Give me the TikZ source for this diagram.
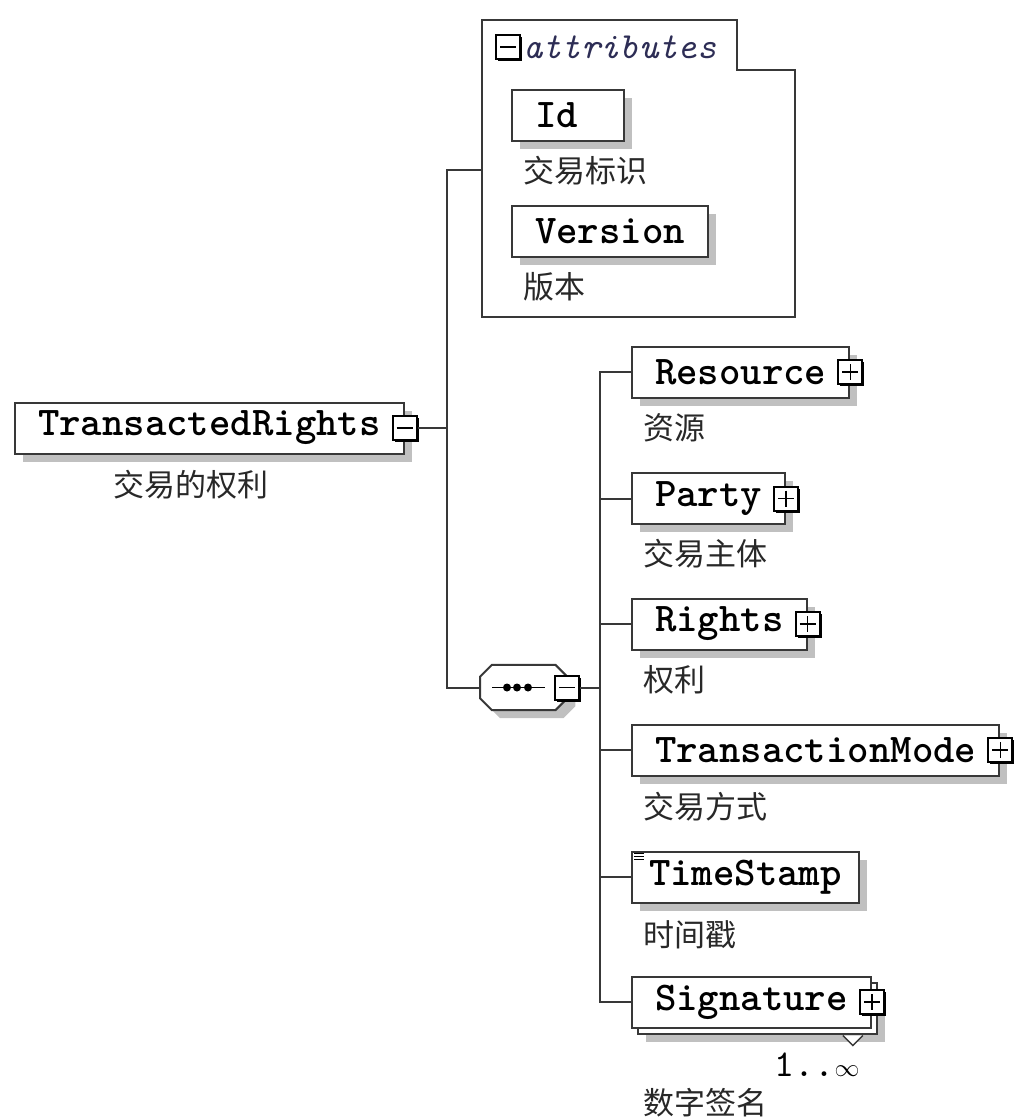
\documentclass[tikz,border=0pt]{standalone}
\usepackage{fontspec}
\usetikzlibrary{shadows, positioning, calc}
\newfontfamily\cjk{Noto Sans CJK SC}
\newfontfamily\elemfam{lmmonolt10-bold.otf}
\newfontfamily\attrfam{lmmono10-italic.otf}
\newfontfamily\monofam{lmmono10-regular.otf}
\definecolor{boxline}{RGB}{56, 56, 56}
\definecolor{shade}{RGB}{192, 192, 192}
\definecolor{attrtext}{RGB}{45, 45, 85}
\definecolor{lbltext}{RGB}{40, 40, 40}
\newcommand{\elemfont}{\elemfam\fontsize{40.8}{48}\selectfont}
\newcommand{\lblfont}{\cjk\fontsize{31}{36}\selectfont}

\tikzset{
  box/.style={draw=boxline, line width=2pt, fill=white, minimum height=51pt,
    inner xsep=23pt, inner ysep=0pt, font=\elemfont, anchor=west},
  elem/.style={box, drop shadow={shadow xshift=8pt, shadow yshift=-8pt, fill=shade, opacity=1}},
  elemmulti/.style={box,
    drop shadow={shadow xshift=14pt, shadow yshift=-14pt, fill=shade, opacity=1},
    copy shadow={shadow xshift=6pt, shadow yshift=-6pt, draw=boxline, fill=white, line width=2pt}},
  pmbox/.style={draw=black, line width=2pt, fill=white, minimum size=24pt, inner sep=0pt,
    drop shadow={shadow xshift=2pt, shadow yshift=-2pt, fill=black, opacity=1}},
  minusbox/.style={pmbox, path picture={
    \draw[line width=1.5pt] ([xshift=4pt]path picture bounding box.west)
      -- ([xshift=-4pt]path picture bounding box.east);}},
  plusbox/.style={pmbox, path picture={
    \draw[line width=1.5pt] ([xshift=4pt]path picture bounding box.west)
      -- ([xshift=-4pt]path picture bounding box.east);
    \draw[line width=1.5pt] ([yshift=-4pt]path picture bounding box.north)
      -- ([yshift=4pt]path picture bounding box.south);}},
  seqbox/.style={minimum width=87pt, minimum height=45pt, inner sep=0pt, anchor=west},
  seqline/.style={draw=boxline, line width=2pt, fill=white,
    drop shadow={shadow xshift=8pt, shadow yshift=-8pt, fill=shade, opacity=1}},
  lbl/.style={font=\lblfont, text=lbltext, inner sep=0pt, anchor=west},
  link/.style={draw=boxline, line width=2pt},
}

\begin{document}
\begin{tikzpicture}[x=1pt, y=-1pt]
  \useasboundingbox (0, 0) rectangle (1015, 1119);

  % root element
  \node[elem] (root) at (14, 428) {TransactedRights};
  \node[minusbox] (rootm) at (root.east) {};
  \node[lbl] (rootl) at ([xshift=99pt, yshift=-30pt]root.south west) {交易的权利};

  % attribute group
  \draw[boxline, line width=2pt] (482, 20) -- (737, 20) -- (737, 70) -- (795, 70)
    -- (795, 317) -- (482, 317) -- cycle;
  \coordinate (attrin) at (482, 170);
  \node[minusbox] (attrm) at (508, 47) {};
  \node[font=\attrfam\fontsize{36.8}{44}\selectfont, text=attrtext, anchor=west,
    inner sep=0pt] (attrt) at (523, 47) {attributes};

  \node[elem, text width=66pt, align=left] (id) at (511, 115.5) {Id};
  \node[lbl] (idl) at ([xshift=12pt, yshift=-29pt]id.south west) {交易标识};
  \node[elem, minimum width=186pt] (ver) at (511, 231) {Version};
  \node[lbl] (verl) at ([xshift=12pt, yshift=-29pt]ver.south west) {版本};

  % sequence compositor
  \node[seqbox] (seq) at (480, 687.5) {};
  \draw[seqline] ([xshift=12pt]seq.north west) -- ([xshift=-12pt]seq.north east)
    -- ([yshift=-12pt]seq.north east) -- ([yshift=12pt]seq.south east)
    -- ([xshift=-12pt]seq.south east) -- ([xshift=12pt]seq.south west)
    -- ([yshift=12pt]seq.south west) -- ([yshift=-12pt]seq.north west) -- cycle;
  \draw[line width=1.6pt] ([xshift=12pt]seq.west) -- ([xshift=65pt]seq.west);
  \foreach \dx in {27, 37, 48}
    \fill ([xshift=\dx pt]seq.west) circle (4pt);
  \node[minusbox] (seqm) at (seq.east) {};

  % child elements
  \node[elem] (res) at (631, 372) {Resource};
  \node[plusbox] (resx) at (res.east) {};
  \node[lbl] (resl) at ([xshift=12pt, yshift=-29pt]res.south west) {资源};

  \node[elem] (par) at (631, 498.5) {Party};
  \node[plusbox] (parx) at (par.east) {};
  \node[lbl] (parl) at ([xshift=12pt, yshift=-29pt]par.south west) {交易主体};

  \node[elem] (rig) at (631, 624) {Rights};
  \node[plusbox] (rigx) at (rig.east) {};
  \node[lbl] (rigl) at ([xshift=12pt, yshift=-29pt]rig.south west) {权利};

  \node[elem] (tmo) at (631, 750) {TransactionMode};
  \node[plusbox] (tmox) at (tmo.east) {};
  \node[lbl] (tmol) at ([xshift=12pt, yshift=-30pt]tmo.south west) {交易方式};

  \node[elem, inner xsep=17pt] (tst) at (631, 877) {TimeStamp};
  \foreach \k in {0, 1, 2}
    \draw[line width=0.8pt] ([xshift=3pt, yshift={-3pt-3pt*\k}]tst.north west) -- ++(10, 0);
  \node[lbl] (tstl) at ([xshift=12pt, yshift=-31pt]tst.south west) {时间戳};

  \node[elemmulti] (sig) at (631, 1002) {Signature};
  \node[plusbox] (sigx) at (sig.east) {};
  \draw[boxline, line width=1.4pt, fill=white] ([xshift=-29pt, yshift=-7pt]sig.south east)
    -- ++(10, 10) -- ++(10, -10);
  \node[font=\monofam\fontsize{38}{44}\selectfont, anchor=east, inner sep=0pt] (sigm)
    at ([xshift=-12pt, yshift=-36pt]sig.south east) {1..$\infty$};
  \node[lbl] (sigl) at ([xshift=12pt, yshift=-74pt]sig.south west) {数字签名};

  % connectors
  \draw[link] (rootm.east) -- ++(29, 0) coordinate (j1);
  \draw[link] (j1) |- (attrin);
  \draw[link] (j1) |- (seq.west);
  \draw[link] (seqm.east) -- ++(20, 0) coordinate (j2);
  \foreach \n in {res, par, rig, tmo, tst, sig}
    \draw[link] (\n.west) -| (j2);

\end{tikzpicture}
\end{document}
